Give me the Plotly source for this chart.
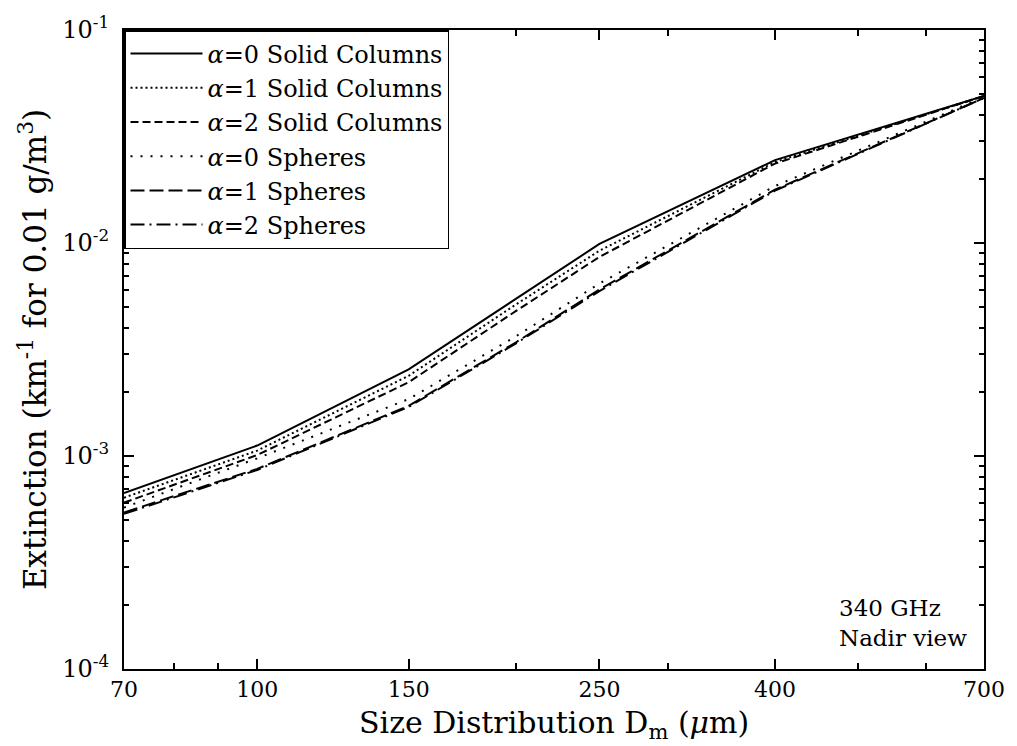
import plotly.graph_objects as go

# Size distribution D_m (micrometres)
dm = [70, 100, 150, 200, 250, 400, 700]

# Extinction values (km^-1 for 0.01 g/m^3)
col_a0 = [6.7e-4, 1.12e-3, 2.55e-3, 5.5e-3, 9.9e-3, 0.0245, 0.049]
col_a1 = [6.37e-4, 1.06e-3, 2.38e-3, 5.15e-3, 9.2e-3, 0.0240, 0.049]
col_a2 = [6.04e-4, 1.01e-3, 2.22e-3, 4.8e-3, 8.6e-3, 0.0236, 0.049]
sph_a0 = [5.73e-4, 9.75e-4, 1.85e-3, 3.65e-3, 6.45e-3, 0.0185, 0.0485]
sph_a1 = [5.43e-4, 8.7e-4, 1.72e-3, 3.42e-3, 6.05e-3, 0.0178, 0.048]
sph_a2 = [5.35e-4, 8.6e-4, 1.70e-3, 3.38e-3, 5.95e-3, 0.0176, 0.048]

names = ["<i>α</i>=0 Solid Columns", "<i>α</i>=1 Solid Columns", "<i>α</i>=2 Solid Columns",
         "<i>α</i>=0 Spheres", "<i>α</i>=1 Spheres", "<i>α</i>=2 Spheres"]
series = [col_a0, col_a1, col_a2, sph_a0, sph_a1, sph_a2]
dashes = ["solid", "2px,3px", "8px,4px", "2px,8px", "14px,5px", "14px,5px,2px,5px"]

x_tickvals = [70, 100, 150, 250, 400, 700]
x_ticktext = ["70", "100", "150", "250", "400", "700"]
x_minor = [80, 90, 200, 300, 500, 600]
y_tickvals = [1e-4, 1e-3, 1e-2, 1e-1]
y_ticktext = ["10<sup>-4</sup>", "10<sup>-3</sup>", "10<sup>-2</sup>", "10<sup>-1</sup>"]
y_minor = [m * 10.0 ** e for e in (-4, -3, -2) for m in range(2, 10)]

FONT = "DejaVu Serif"

fig = go.Figure()
for nm, ys, ds in zip(names, series, dashes):
    fig.add_trace(go.Scatter(x=dm, y=ys, mode="lines", name=nm,
                             line=dict(color="black", width=2, dash=ds)))

fig.update_layout(
    width=1017, height=746,
    margin=dict(l=124, r=24, t=20, b=77),
    paper_bgcolor="white", plot_bgcolor="white",
    font=dict(family=FONT, color="black", size=23),
    showlegend=True,
    legend=dict(x=0, y=1, xanchor="left", yanchor="top",
                bordercolor="black", borderwidth=1.5, bgcolor="white",
                font=dict(family=FONT, size=24, color="black"),
                itemwidth=72, tracegroupgap=0),
    annotations=[
        dict(x=0.983, y=0.025, xref="paper", yref="paper",
             xanchor="right", yanchor="bottom", align="left",
             text="340 GHz<br>Nadir view", showarrow=False,
             font=dict(family=FONT, size=23, color="black")),
        dict(x=0.5, y=-0.12, xref="paper", yref="paper",
             xanchor="center", yanchor="bottom",
             text="Size Distribution D<sub>m</sub> (<i>μ</i>m)", showarrow=False,
             font=dict(family=FONT, size=30, color="black")),
    ],
)

fig.update_xaxes(type="log", range=[1.8451, 2.8451],
                 tickvals=x_tickvals, ticktext=x_ticktext,
                 ticks="inside", ticklen=10, tickwidth=1.5, tickcolor="black",
                 minor=dict(tickvals=x_minor, ticks="inside", ticklen=6,
                            tickwidth=1.5, tickcolor="black", showgrid=False),
                 showgrid=False, showline=True, linecolor="black", linewidth=2,
                 mirror="allticks", zeroline=False,
                 tickfont=dict(family=FONT, size=22))

fig.update_yaxes(type="log", range=[-4, -1],
                 tickvals=y_tickvals, ticktext=y_ticktext,
                 ticks="inside", ticklen=10, tickwidth=1.5, tickcolor="black",
                 minor=dict(tickvals=y_minor, ticks="inside", ticklen=5,
                            tickwidth=1.5, tickcolor="black", showgrid=False),
                 showgrid=False, showline=True, linecolor="black", linewidth=2,
                 mirror="allticks", zeroline=False,
                 tickfont=dict(family=FONT, size=24), ticklabelstandoff=8,
                 title=dict(text="Extinction (km<sup>-1</sup> for 0.01 g/m<sup>3</sup>)",
                            font=dict(family=FONT, size=31), standoff=6))

fig.write_html("out.html")
